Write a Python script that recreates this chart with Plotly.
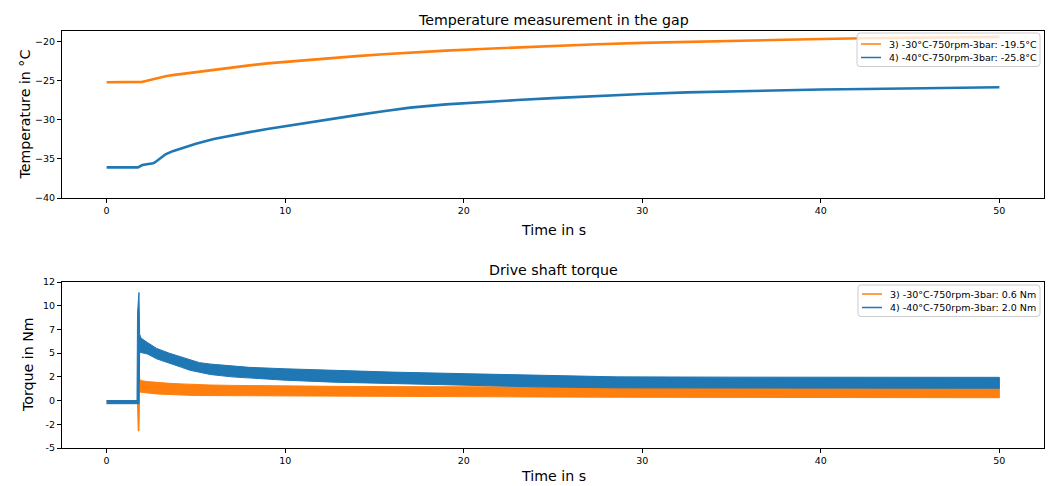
import plotly.graph_objects as go

# ---------------- data ----------------
temp_time = [0, 1.75, 2.0, 2.2, 2.4, 2.6, 2.7, 3.0, 3.3, 3.7, 4.2, 5, 6, 7, 8, 9, 10, 11,
             12.5, 14, 15.5, 17, 19, 21, 23, 25, 27.5, 30, 32.5, 35, 37.5, 40, 42.5,
             45, 47.5, 50]
temp_s3 = [-25.17, -25.17, -25.12, -25.02, -24.9, -24.8, -24.75, -24.55, -24.4, -24.25,
           -24.1, -23.85, -23.55, -23.28, -23.0, -22.75, -22.55, -22.35, -22.08, -21.82,
           -21.58, -21.36, -21.12, -20.9, -20.7, -20.5, -20.3, -20.12, -19.98, -19.86,
           -19.75, -19.63, -19.53, -19.46, -19.4, -19.35]
temp_s4 = [-36.07, -36.07, -35.78, -35.72, -35.7, -35.55, -35.45, -34.9, -34.4, -34.0,
           -33.6, -33.05, -32.45, -31.98, -31.56, -31.17, -30.8, -30.45, -29.92, -29.38,
           -28.88, -28.42, -28.0, -27.7, -27.45, -27.2, -26.92, -26.67, -26.47, -26.32,
           -26.2, -26.1, -26.03, -25.95, -25.88, -25.8]

torque_time = [0, 1.70, 1.73, 1.77, 1.81, 1.85, 1.92, 2.3, 2.8, 3.5, 4.2, 4.66, 5.2, 5.8,
               7, 8, 10, 12.7, 16, 20.2, 24, 28.6, 35, 42, 50]
# noise envelope (upper / lower edge of the band) for each run
torque_s3_upper = [0.0, 0.0, 0.0, 5.1, 5.1, 2.3, 2.1, 2.0, 1.9, 1.82, 1.76, 1.72, 1.69,
                   1.64, 1.6, 1.57, 1.54, 1.5, 1.47, 1.45, 1.43, 1.41, 1.37, 1.35, 1.34]
torque_s3_lower = [-0.3, -0.3, -0.3, -3.2, -3.2, 0.9, 0.9, 0.8, 0.7, 0.63, 0.58, 0.55,
                   0.53, 0.5, 0.48, 0.46, 0.45, 0.43, 0.41, 0.4, 0.38, 0.35, 0.32, 0.3,
                   0.3]
torque_s4_upper = [0.0, 0.0, 9.2, 11.4, 11.4, 7.0, 6.6, 6.1, 5.5, 5.0, 4.6, 4.3, 4.0,
                   3.85, 3.65, 3.5, 3.35, 3.18, 3.0, 2.83, 2.65, 2.5, 2.47, 2.46, 2.45]
torque_s4_lower = [-0.33, -0.33, -0.33, -0.33, -0.33, 5.1, 5.1, 4.9, 4.4, 3.95, 3.5, 3.2,
                   2.95, 2.75, 2.5, 2.35, 2.15, 1.94, 1.75, 1.6, 1.45, 1.34, 1.32, 1.31,
                   1.3]

label_temp_s3 = "3) -30°C-750rpm-3bar: -19.5°C"
label_temp_s4 = "4) -40°C-750rpm-3bar: -25.8°C"
label_torque_s3 = "3) -30°C-750rpm-3bar: 0.6 Nm"
label_torque_s4 = "4) -40°C-750rpm-3bar: 2.0 Nm"

x_ticks = [0, 10, 20, 30, 40, 50]
temp_ticks = [-40, -35, -30, -25, -20]
torque_ticks = [-5, -2.5, 0, 2.5, 5, 7.5, 10, 12.5]
torque_ticktext = ["-5", "-2", "0", "2", "5", "7", "10", "12"]

ORANGE = "#ff7f0e"
BLUE = "#1f77b4"
FONT = "DejaVu Sans"

W, H = 1052, 486


def px_x(p):
    return p / W


def px_y(p):
    return 1 - p / H


fig = go.Figure()

# ---------- top: temperature ----------
fig.add_trace(go.Scatter(x=temp_time, y=temp_s3, mode="lines", name=label_temp_s3,
                         line=dict(color=ORANGE, width=2.6), xaxis="x", yaxis="y",
                         showlegend=False))
fig.add_trace(go.Scatter(x=temp_time, y=temp_s4, mode="lines", name=label_temp_s4,
                         line=dict(color=BLUE, width=2.6), xaxis="x", yaxis="y",
                         showlegend=False))


# ---------- bottom: torque bands ----------
def band(t, up, lo, color, name):
    xs = list(t) + list(t)[::-1]
    ys = list(up) + list(lo)[::-1]
    fig.add_trace(go.Scatter(x=xs, y=ys, mode="lines", fill="toself", fillcolor=color,
                             line=dict(color=color, width=1), showlegend=False,
                             name=name, hoverinfo="skip", xaxis="x2", yaxis="y2"))


band(torque_time, torque_s3_upper, torque_s3_lower, ORANGE, label_torque_s3)
band(torque_time, torque_s4_upper, torque_s4_lower, BLUE, label_torque_s4)

x_dom = [px_x(62), px_x(1044)]
axis_common = dict(showline=True, linecolor="black", linewidth=1, mirror=True,
                   ticks="outside", ticklen=4, tickcolor="black", showgrid=False,
                   zeroline=False, automargin=False,
                   tickfont=dict(family=FONT, size=9.5, color="black"))

fig.update_layout(
    width=W, height=H,
    margin=dict(l=0, r=0, t=0, b=0),
    paper_bgcolor="white", plot_bgcolor="white",
    font=dict(family=FONT, color="black"),
    showlegend=False,
    xaxis=dict(domain=x_dom, range=[-2.5, 52.5], tickvals=x_ticks, anchor="y",
               **axis_common),
    yaxis=dict(domain=[px_y(198), px_y(31)], range=[-40, -18.6], tickvals=temp_ticks,
               anchor="x", **axis_common),
    xaxis2=dict(domain=x_dom, range=[-2.5, 52.5], tickvals=x_ticks, anchor="y2",
                **axis_common),
    yaxis2=dict(domain=[px_y(448), px_y(282)], range=[-5, 12.5], tickvals=torque_ticks,
                ticktext=torque_ticktext, anchor="x2", **axis_common),
)


# ---------- legends (matplotlib-style boxes) ----------
def rounded_box(x0, y0, x1, y1, r=3):
    X0, X1 = px_x(x0), px_x(x1)
    Y0, Y1 = px_y(y0), px_y(y1)  # Y0 top, Y1 bottom
    rx, ry = r / W, r / H
    return (f"M {X0 + rx},{Y0} L {X1 - rx},{Y0} Q {X1},{Y0} {X1},{Y0 - ry} "
            f"L {X1},{Y1 + ry} Q {X1},{Y1} {X1 - rx},{Y1} L {X0 + rx},{Y1} "
            f"Q {X0},{Y1} {X0},{Y1 + ry} L {X0},{Y0 - ry} Q {X0},{Y0} {X0 + rx},{Y0} Z")


def legend(box, rows):
    fig.add_shape(type="path", path=rounded_box(*box), xref="paper", yref="paper",
                  fillcolor="rgba(255,255,255,0.8)", line=dict(color="#cccccc", width=1),
                  layer="above")
    for (ly, color, text) in rows:
        fig.add_shape(type="line", xref="paper", yref="paper",
                      x0=px_x(box[0] + 4), x1=px_x(box[0] + 24), y0=px_y(ly), y1=px_y(ly),
                      line=dict(color=color, width=1.5), layer="above")
        fig.add_annotation(text=text, xref="paper", yref="paper", x=px_x(box[0] + 30),
                           y=px_y(ly), xanchor="left", yanchor="middle", showarrow=False,
                           font=dict(family=FONT, size=9.5, color="black"))


legend((857, 33, 1040, 66.5), [(44, ORANGE, label_temp_s3), (57.5, BLUE, label_temp_s4)])
legend((858, 285, 1040, 316.5), [(294, ORANGE, label_torque_s3), (307.5, BLUE, label_torque_s4)])

ann_font = dict(family=FONT, size=14.2, color="black")
annotations = [
    dict(text="Temperature measurement in the gap", x=px_x(553), y=px_y(20),
         yanchor="middle"),
    dict(text="Time in s", x=px_x(553), y=px_y(230), yanchor="middle"),
    dict(text="Temperature in °C", x=px_x(24), y=px_y(114.5), textangle=-90,
         yanchor="middle"),
    dict(text="Drive shaft torque", x=px_x(553), y=px_y(270), yanchor="middle"),
    dict(text="Time in s", x=px_x(553), y=0, yanchor="bottom"),
    dict(text="Torque in Nm", x=px_x(28), y=px_y(365), textangle=-90, yanchor="middle"),
]
for a in annotations:
    fig.add_annotation(xref="paper", yref="paper", showarrow=False, font=ann_font,
                       xanchor="center", **a)

fig.write_html("out.html")
